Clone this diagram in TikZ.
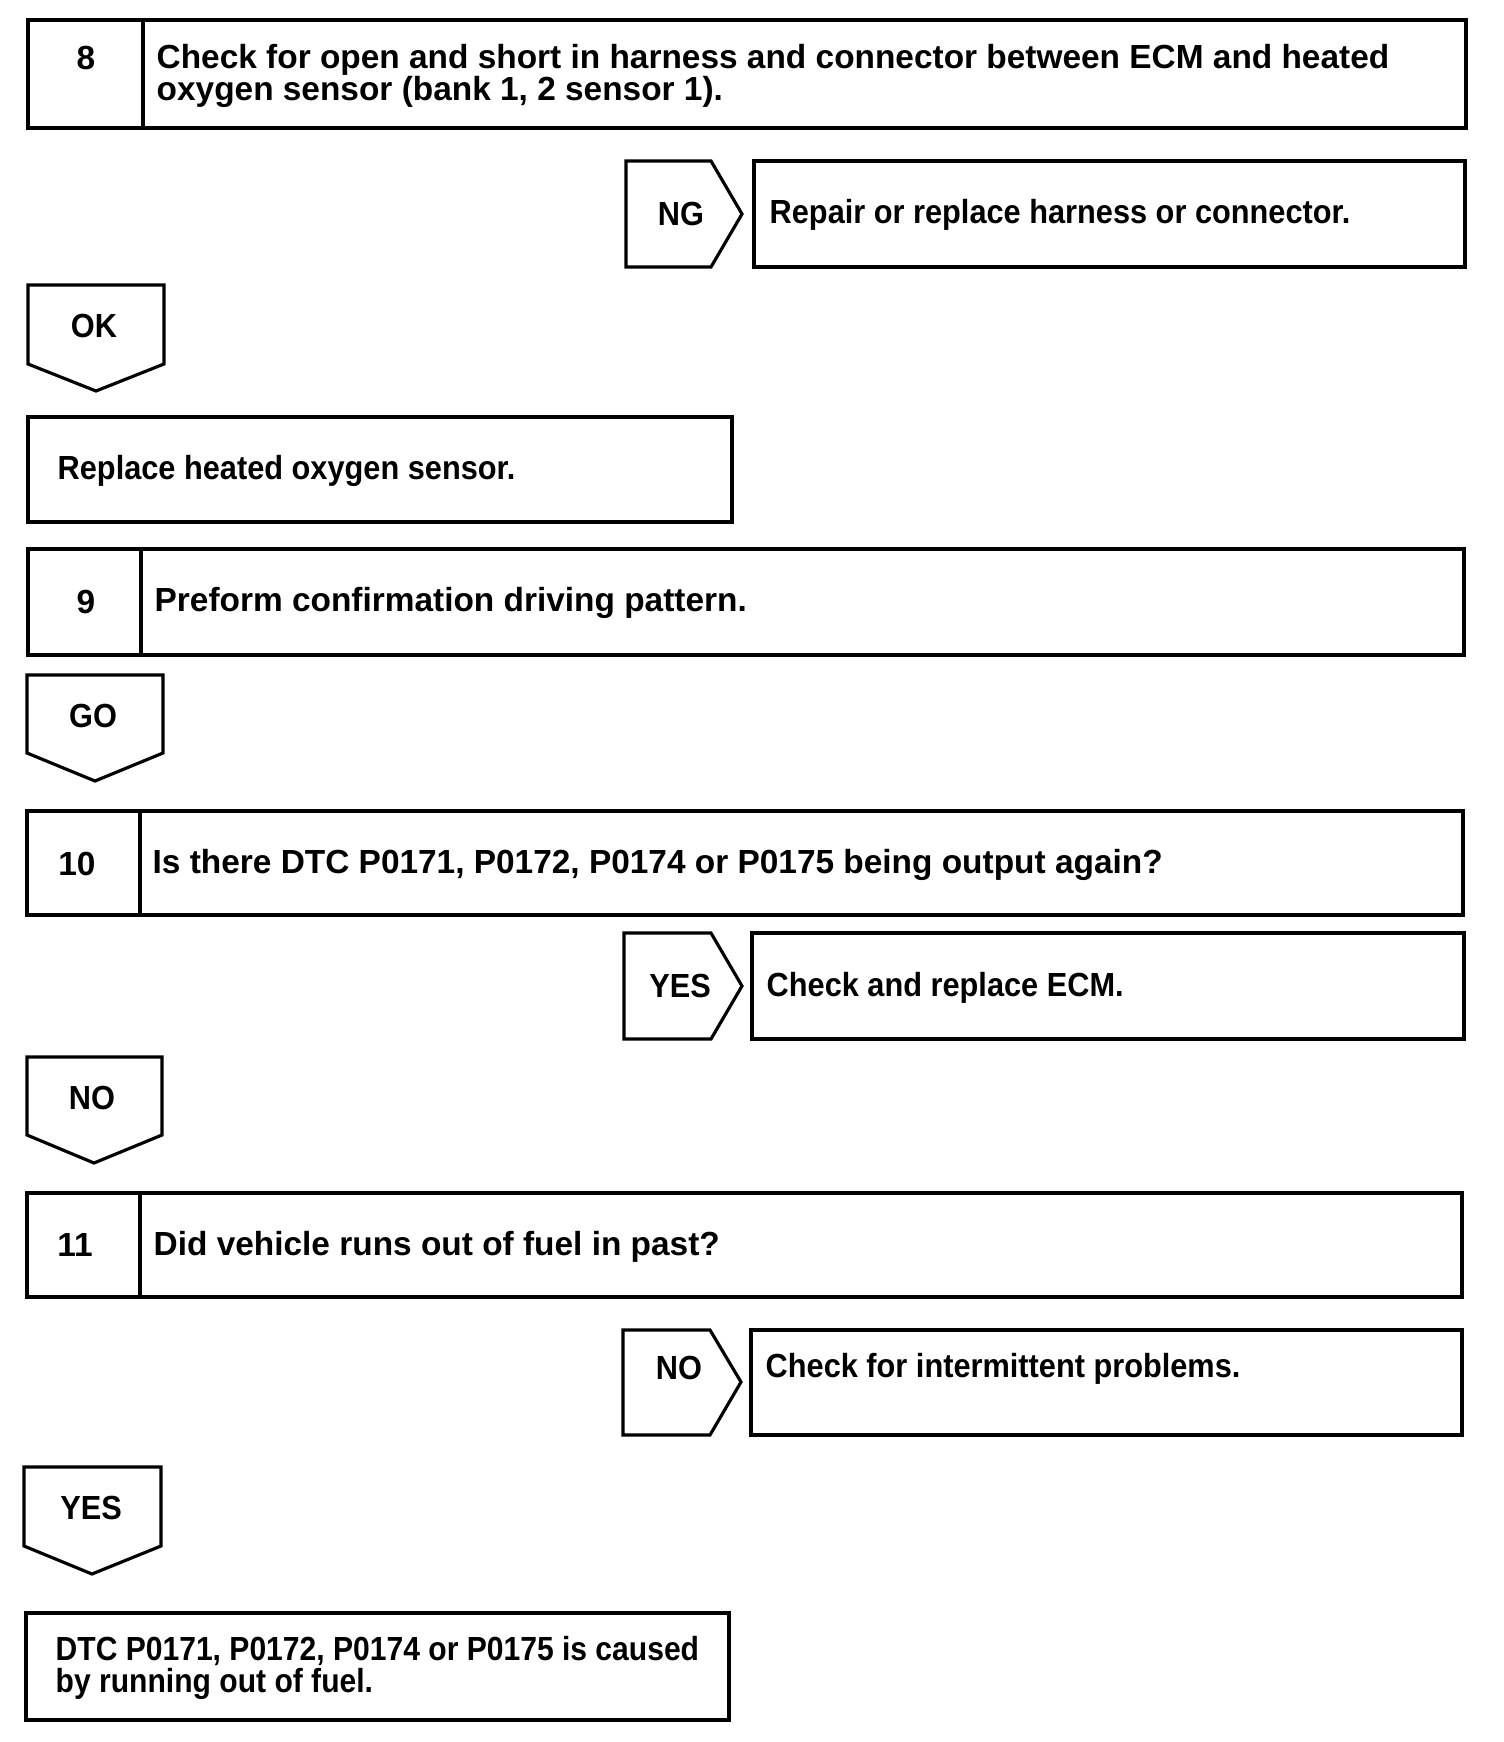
\documentclass[tikz,border=0pt]{standalone}
\usepackage{fontspec}
\newfontfamily\chartfont{Liberation Sans}
\newfontfamily\actfont{Liberation Sans}[FakeStretch=0.92]
\newfontfamily\endfont{Liberation Sans}[FakeStretch=0.9]
\usepackage{tikz}
\usetikzlibrary{positioning}

\begin{document}
\begin{tikzpicture}[x=0.01cm, y=-0.01cm,
  frame/.style={draw=black, line width=0.9pt, line join=miter},
  lbl/.style={font=\chartfont\bfseries\fontsize{9.5}{9.1}\selectfont, inner sep=0pt},
  tag/.style={lbl, font=\actfont\bfseries\fontsize{9.5}{9.1}\selectfont},
  txt/.style={lbl, anchor=west, align=left},
  acttxt/.style={tag, anchor=west, align=left}
]
\useasboundingbox (0,0) rectangle (1504,1742);

% step 8
\draw[frame] (28,20) rectangle (1466,128);
\draw[frame] (143,20) -- (143,128);
\node[lbl] (n8) at (86,58) {8};
\node[txt] (t8) at (156,76) {Check for open and short in harness and connector between ECM and heated\\oxygen sensor (bank 1, 2 sensor 1).};

\draw[frame] (626,161) -- (711,161) -- (742,214) -- (711,267) -- (626,267) -- cycle;
\node[tag] (ng) at (681,214) {NG};
\draw[frame] (754,161) rectangle (1465,267);
\node[acttxt] (ngact) at (769,215) {Repair or replace harness or connector.};

\draw[frame] (28,285) -- (164,285) -- (164,364) -- (96,391) -- (28,364) -- cycle;
\node[tag] (ok) at (94,326) {OK};

\draw[frame] (28,417) rectangle (732,522);
\node[acttxt] (repl) at (57,471) {Replace heated oxygen sensor.};

% step 9
\draw[frame] (28,549) rectangle (1464,655);
\draw[frame] (141,549) -- (141,655);
\node[lbl] (n9) at (86,602) {9};
\node[txt] (t9) at (154,603) {Preform confirmation driving pattern.};

\draw[frame] (27,675) -- (163,675) -- (163,753) -- (95,781) -- (27,753) -- cycle;
\node[tag] (go) at (93,716) {GO};

% step 10
\draw[frame] (27,811) rectangle (1463,915);
\draw[frame] (140,811) -- (140,915);
\node[lbl] (n10) at (77,864) {10};
\node[txt] (t10) at (152,865) {Is there DTC P0171, P0172, P0174 or P0175 being output again?};

\draw[frame] (624,933) -- (711,933) -- (742,986) -- (711,1039) -- (624,1039) -- cycle;
\node[tag] (yes1) at (680,986) {YES};
\draw[frame] (752,933) rectangle (1464,1039);
\node[acttxt] (yesact) at (766,988) {Check and replace ECM.};

\draw[frame] (27,1057) -- (162,1057) -- (162,1135) -- (94,1163) -- (27,1135) -- cycle;
\node[tag] (no1) at (92,1098) {NO};

% step 11
\draw[frame] (27,1193) rectangle (1462,1297);
\draw[frame] (140,1193) -- (140,1297);
\node[lbl] (n11) at (75,1245) {11};
\node[txt] (t11) at (153,1247) {Did vehicle runs out of fuel in past?};

\draw[frame] (623,1330) -- (710,1330) -- (741,1382) -- (710,1435) -- (623,1435) -- cycle;
\node[tag] (no2) at (679,1368) {NO};
\draw[frame] (751,1330) rectangle (1462,1435);
\node[acttxt] (noact) at (765,1369) {Check for intermittent problems.};

\draw[frame] (24,1467) -- (161,1467) -- (161,1546) -- (92,1574) -- (24,1546) -- cycle;
\node[tag] (yes2) at (91,1508) {YES};

\draw[frame] (26,1613) rectangle (729,1720);
\node[acttxt, font=\endfont\bfseries\fontsize{9.5}{9.1}\selectfont] (cause) at (55,1668) {DTC P0171, P0172, P0174 or P0175 is caused\\by running out of fuel.};
\end{tikzpicture}
\end{document}
